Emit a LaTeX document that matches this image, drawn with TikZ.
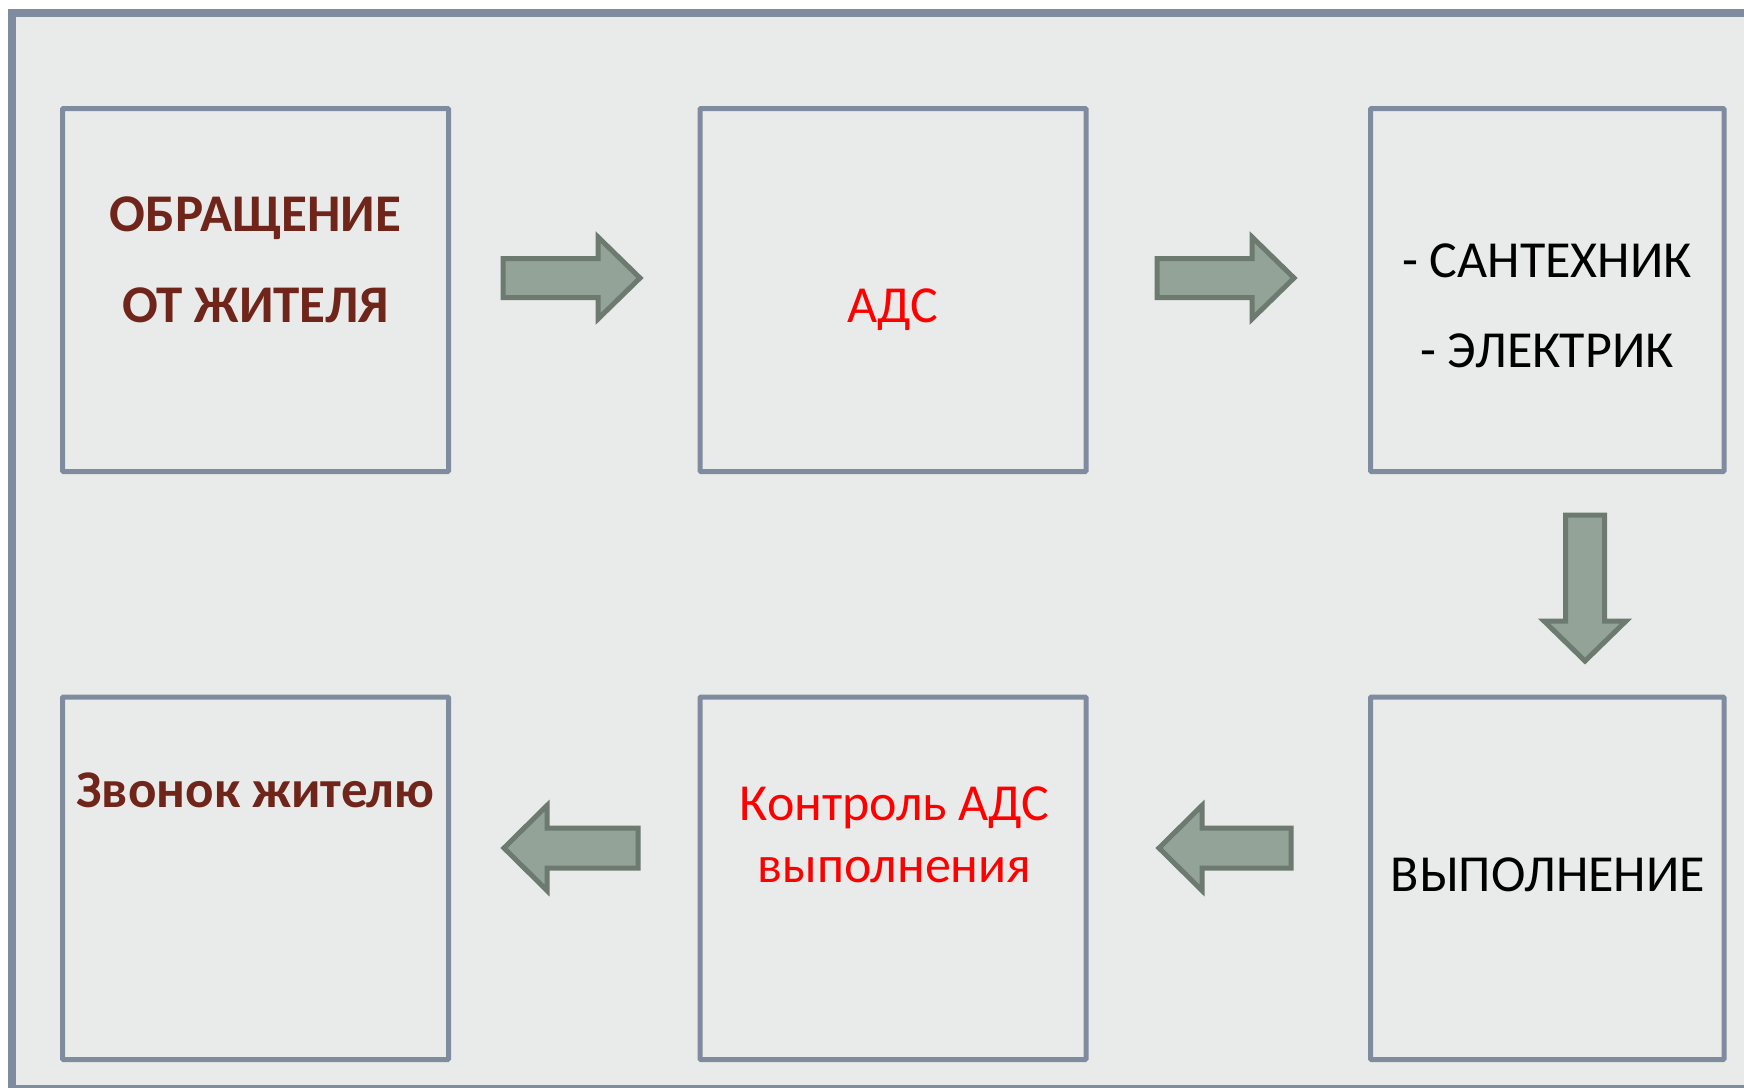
\documentclass[tikz,border=0pt]{standalone}
\usepackage{fontspec}
\setmainfont{Carlito}
\definecolor{bgc}{HTML}{E9EBEA}
\definecolor{framec}{HTML}{7F8CA0}
\definecolor{arrfill}{HTML}{94A397}
\definecolor{arrline}{HTML}{6C7A70}
\definecolor{brownc}{HTML}{70251A}
\definecolor{redc}{HTML}{FF0000}
\tikzset{
  boxnode/.style={draw=framec, line width=5pt, fill=bgc, rounded corners=1pt, inner sep=0pt, minimum height=363pt},
  txt/.style={anchor=base, inner sep=0pt, align=center},
  bigfont/.style={font=\fontsize{52}{90.5}\selectfont},
  blockarrow/.style={draw=arrline, fill=arrfill, line width=5pt, line join=miter, miter limit=10}
}
\begin{document}
\begin{tikzpicture}[x=1pt,y=-1pt]
\useasboundingbox (0,0) rectangle (1744,1087);
\clip (0,0) rectangle (1744,1087);
\fill[white] (0,0) rectangle (1744,1087);
\draw[draw=framec, fill=bgc, line width=8pt] (12,13) rectangle (1790,1089);

% boxes
\node[boxnode, minimum width=386pt] (b1) at (255.5,290) {};
\node[boxnode, minimum width=386pt] (b2) at (893,290) {};
\node[boxnode, minimum width=353.5pt] (b3) at (1547.25,290) {};
\node[boxnode, minimum width=386pt, minimum height=362.5pt] (b4) at (255.5,878.25) {};
\node[boxnode, minimum width=386pt, minimum height=362.5pt] (b5) at (893,878.25) {};
\node[boxnode, minimum width=353.5pt, minimum height=362.5pt] (b6) at (1547.25,878.25) {};

% texts (base anchor = baseline of last line)
\node[txt, text=brownc, font=\fontsize{53}{91}\selectfont\bfseries] (t1) at (255.5,322) {ОБРАЩЕНИЕ\\ОТ ЖИТЕЛЯ};
\node[txt, bigfont, text=redc] (t2) at (893,322) {АДС};
\node[txt, text=black, font=\fontsize{52}{90}\selectfont] (t3) at (1547,367) {- САНТЕХНИК\\- ЭЛЕКТРИК};
\node[txt, text=brownc, font=\fontsize{53}{62}\selectfont\bfseries] (t4) at (255.5,807.5) {Звонок жителю};
\node[txt, text=redc, font=\fontsize{52}{62.5}\selectfont] (t5) at (894.5,882.5) {Контроль АДС\\выполнения};
\node[txt, bigfont, text=black] (t6) at (1548,891) {ВЫПОЛНЕНИЕ};

% block arrows
\draw[blockarrow] (503,258.5) -- (598,258.5) -- (598,237) -- (640,278) -- (598,319) -- (598,297.5) -- (503,297.5) -- cycle;
\draw[blockarrow] (1157,258.5) -- (1252,258.5) -- (1252,237) -- (1294,278) -- (1252,319) -- (1252,297.5) -- (1157,297.5) -- cycle;
\draw[blockarrow] (1565.5,515) -- (1604.5,515) -- (1604.5,621) -- (1626,621) -- (1585,661) -- (1544,621) -- (1565.5,621) -- cycle;
\draw[blockarrow] (1291,828) -- (1202,828) -- (1202,805.5) -- (1159,848) -- (1202,890.5) -- (1202,868) -- (1291,868) -- cycle;
\draw[blockarrow] (638,828) -- (547,828) -- (547,805.5) -- (504,848) -- (547,890.5) -- (547,868) -- (638,868) -- cycle;
\end{tikzpicture}
\end{document}
